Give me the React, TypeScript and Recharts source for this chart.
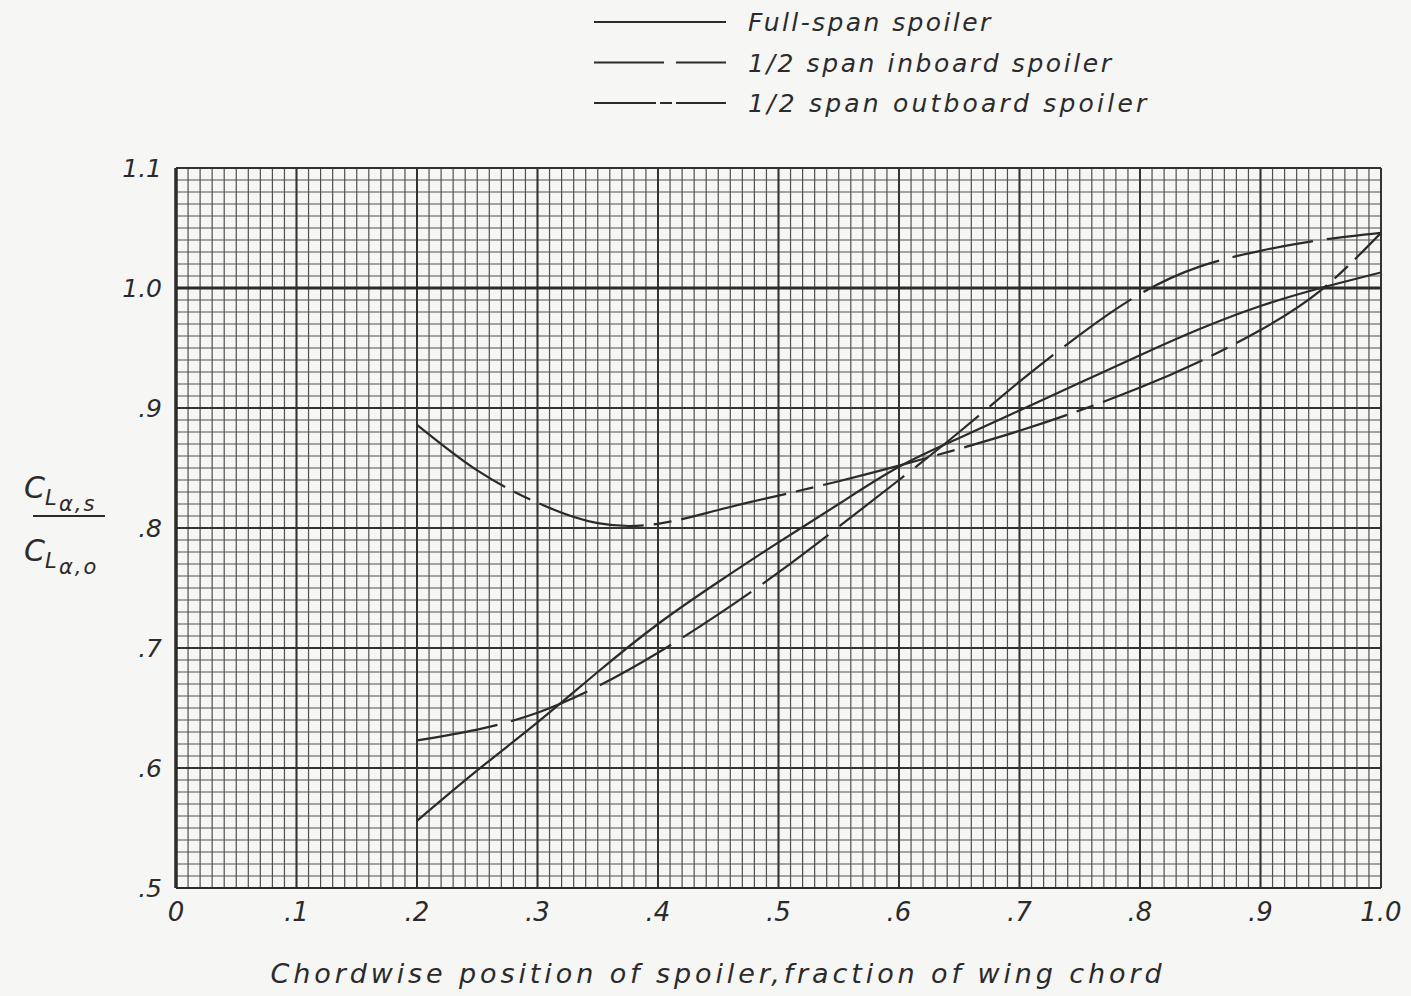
import React from 'react';
import { ComposedChart, Line, XAxis, YAxis, CartesianGrid, ReferenceLine } from 'recharts';

// Chordwise position of spoiler (fraction of wing chord)
const chordPositions = [0.2, 0.25, 0.3, 0.35, 0.4, 0.45, 0.5, 0.55, 0.6, 0.65, 0.7, 0.75, 0.8, 0.85, 0.9, 0.95, 1.0];
// Full-span spoiler
const fullSpan = [0.556, 0.598, 0.638, 0.68, 0.72, 0.755, 0.788, 0.82, 0.851, 0.875, 0.898, 0.921, 0.944, 0.966, 0.985, 1.0, 1.013];
// 1/2 span inboard spoiler
const inboard = [0.623, 0.632, 0.646, 0.668, 0.696, 0.728, 0.763, 0.801, 0.84, 0.88, 0.922, 0.961, 0.995, 1.018, 1.031, 1.04, 1.046];
// 1/2 span outboard spoiler
const outboard = [0.886, 0.848, 0.821, 0.804, 0.8035, 0.815, 0.827, 0.839, 0.852, 0.866, 0.881, 0.898, 0.917, 0.939, 0.965, 0.998, 1.046];

const xTicks = [0, 0.1, 0.2, 0.3, 0.4, 0.5, 0.6, 0.7, 0.8, 0.9, 1.0];
const xTickLabels = ['0', '.1', '.2', '.3', '.4', '.5', '.6', '.7', '.8', '.9', '1.0'];
const yTicks = [0.5, 0.6, 0.7, 0.8, 0.9, 1.0, 1.1];
const yTickLabels = ['.5', '.6', '.7', '.8', '.9', '1.0', '1.1'];

const legendLabels = ['Full-span spoiler', '1/2 span inboard spoiler', '1/2 span outboard spoiler'];
const xAxisTitle = 'Chordwise position of spoiler,fraction of wing chord';

// graph-paper rulings (every 0.01)
const minorX = Array.from({ length: 101 }, (_, i) => i / 100);
const minorY = Array.from({ length: 61 }, (_, i) => Math.round((0.5 + i / 100) * 1000) / 1000);

const data = chordPositions.map((x, i) => ({
  x,
  full: fullSpan[i],
  inboard: inboard[i],
  outboard: outboard[i],
}));

const INK = '#2b2b2b';
const FONT = '"DejaVu Sans", sans-serif';

const fmtX = (v: number) => {
  const i = xTicks.findIndex((t) => Math.abs(t - v) < 1e-6);
  return i >= 0 ? xTickLabels[i] : '';
};
const fmtY = (v: number) => {
  const i = yTicks.findIndex((t) => Math.abs(t - v) < 1e-6);
  return i >= 0 ? yTickLabels[i] : '';
};

const LegendBox = () => {
  const dashes = ['none', '70 12 60', '62 4 12 4 60'];
  const spacing = [2.4, 2.6, 3.2];
  return (
    <g>
      {legendLabels.map((label, i) => {
        const y = 22 + i * 40.5;
        return (
          <g key={label}>
            <line x1={594} x2={726} y1={y} y2={y} stroke={INK} strokeWidth={2.2} strokeDasharray={dashes[i]} />
            <text x={748} y={y + 9} fontFamily={FONT} fontStyle="italic" fontSize={25} letterSpacing={spacing[i]} fill={INK}>
              {label}
            </text>
          </g>
        );
      })}
    </g>
  );
};

const YTitle = () => (
  <g fill={INK} fontFamily={FONT} fontStyle="italic">
    <text x={24} y={498} fontSize={30}>C</text>
    <text x={45} y={505} fontSize={21}>L</text>
    <text x={59} y={511} fontSize={21} letterSpacing={2}>α,s</text>
    <line x1={33} x2={105} y1={516} y2={516} stroke={INK} strokeWidth={2.2} />
    <text x={24} y={561} fontSize={30}>C</text>
    <text x={45} y={568} fontSize={21}>L</text>
    <text x={59} y={574} fontSize={21} letterSpacing={2}>α,o</text>
  </g>
);

export default function App() {
  return (
    <div style={{ position: 'absolute', left: 0, top: 0, width: 1411, height: 996, background: '#f6f6f4' }}>
      <ComposedChart width={1411} height={996} data={data} margin={{ top: 168, right: 30, bottom: 58, left: 116 }}>
        <XAxis xAxisId="minor" dataKey="x" type="number" domain={[0, 1]} ticks={minorX} interval={0} hide allowDataOverflow />
        <YAxis yAxisId="minor" type="number" domain={[0.5, 1.1]} ticks={minorY} interval={0} hide allowDataOverflow />
        <CartesianGrid xAxisId="minor" yAxisId="minor" stroke="#505050" strokeWidth={1.2} />
        <CartesianGrid stroke="#333" strokeWidth={2} />
        <XAxis
          dataKey="x"
          type="number"
          domain={[0, 1]}
          ticks={xTicks}
          tickFormatter={fmtX}
          interval={0}
          height={50}
          tickLine={false}
          tickSize={0}
          tickMargin={15}
          axisLine={{ stroke: INK, strokeWidth: 2 }}
          tick={{ fill: INK, fontSize: 26, fontStyle: 'italic', fontFamily: FONT }}
          allowDataOverflow
        />
        <YAxis
          type="number"
          domain={[0.5, 1.1]}
          ticks={yTicks}
          tickFormatter={fmtY}
          interval={0}
          width={60}
          tickLine={false}
          tickSize={0}
          tickMargin={14}
          axisLine={{ stroke: INK, strokeWidth: 3.5 }}
          tick={{ fill: INK, fontSize: 25, fontStyle: 'italic', fontFamily: FONT }}
          allowDataOverflow
        />
        <ReferenceLine y={1.0} stroke={INK} strokeWidth={3} />
        <Line dataKey="full" type="natural" stroke={INK} strokeWidth={2.2} dot={false} isAnimationActive={false} />
        <Line dataKey="inboard" type="natural" stroke={INK} strokeWidth={2.2} strokeDasharray="82 14" dot={false} isAnimationActive={false} />
        <Line dataKey="outboard" type="natural" stroke={INK} strokeWidth={2.2} strokeDasharray="108 10 18 10" dot={false} isAnimationActive={false} />
        <LegendBox />
        <YTitle />
        <text x={718} y={983} textAnchor="middle" fill={INK} fontFamily={FONT} fontStyle="italic" fontSize={27} letterSpacing={3.9}>
          {xAxisTitle}
        </text>
      </ComposedChart>
    </div>
  );
}
